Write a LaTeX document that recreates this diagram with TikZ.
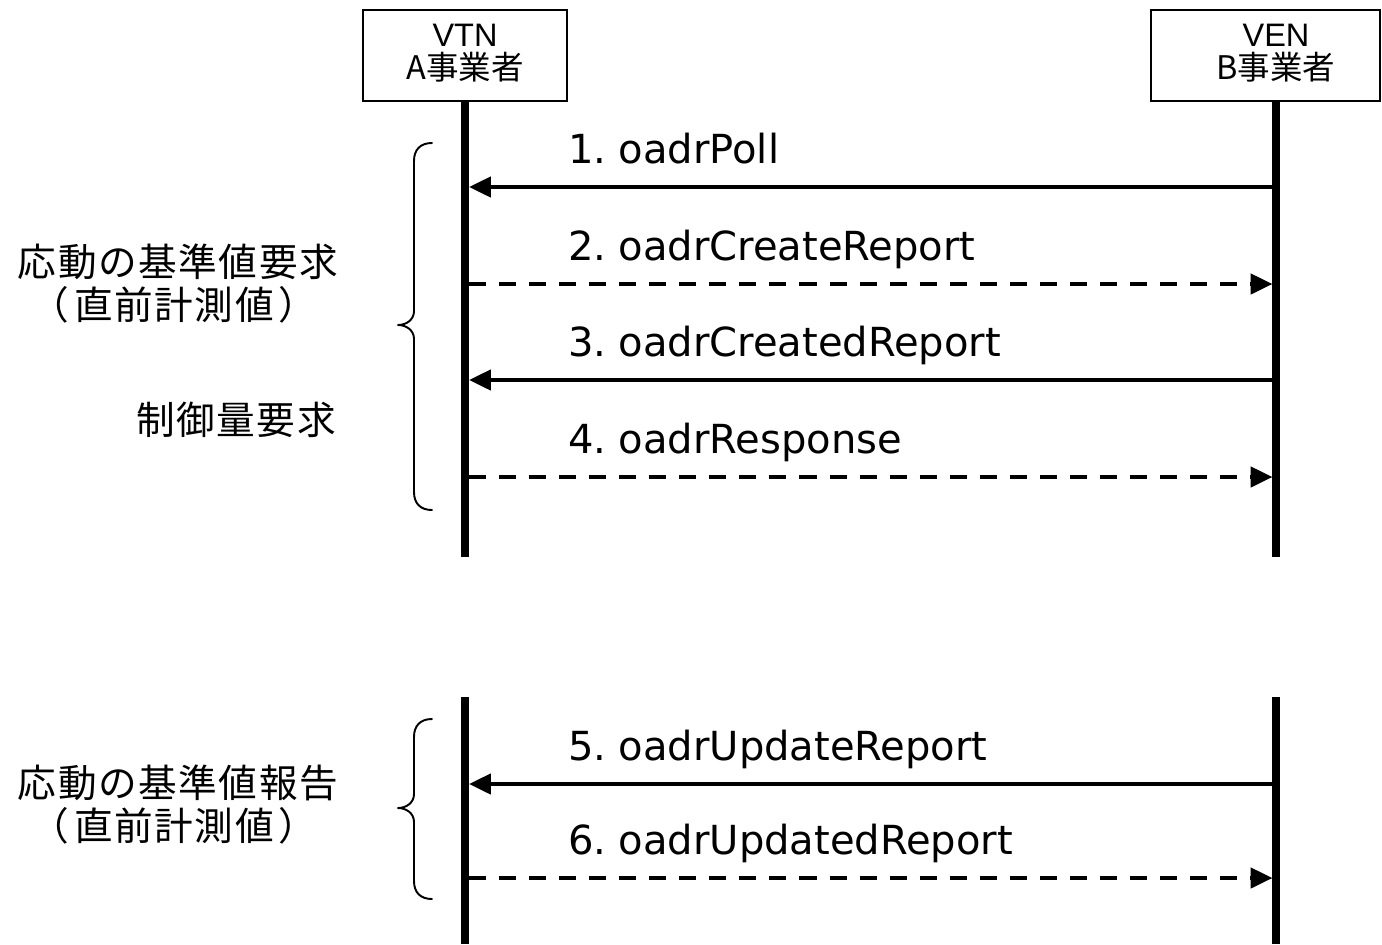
\documentclass[tikz,border=0pt]{standalone}
\usepackage{fontspec}
\setmainfont{Liberation Sans}
\newfontfamily\jpfont[LetterSpace=4]{Noto Sans CJK JP}
\newfontfamily\jpboxfont{Noto Sans CJK JP}
\newfontfamily\msgfont{DejaVu Sans}
\usetikzlibrary{arrows.meta}

\tikzset{
  actorbox/.style={draw, line width=0.75pt, inner sep=0pt},
  actorname/.style={inner sep=0pt, align=center, font=\fontsize{18.5}{19}\selectfont},
  lifeline/.style={line width=4.5pt},
  msg/.style={line width=2.3pt, -{Triangle[length=12.5pt,width=11.5pt]}},
  reply/.style={msg, dash pattern=on 9.7pt off 7.4pt},
  msglabel/.style={inner sep=0pt, anchor=base west, font=\msgfont\fontsize{22.8}{26}\selectfont},
  phase/.style={inner sep=0pt, font=\jpfont\fontsize{22}{24}\selectfont},
  brace/.style={line width=1.1pt, line cap=round, line join=round}
}

\begin{document}
\begin{tikzpicture}[x=0.02cm, y=-0.02cm]
\useasboundingbox (0,0) rectangle (1382,944);

% participants
\node[actorbox, minimum width=4.08cm, minimum height=1.82cm] (vtnbox) at (465,55.5) {};
\node[actorbox, minimum width=4.58cm, minimum height=1.82cm] (venbox) at (1265.5,55.5) {};
\node[actorname] (vtnname) at (465,53) {VTN\\{\jpboxfont A事業者}};
\node[actorname] (venname) at (1276,53) {VEN\\{\jpboxfont B事業者}};

% lifelines
\coordinate (vtnA) at (465,101);
\coordinate (vtnB) at (465,557);
\coordinate (venA) at (1276,101);
\coordinate (venB) at (1276,557);
\coordinate (vtnC) at (465,697);
\coordinate (vtnD) at (465,944);
\coordinate (venC) at (1276,697);
\coordinate (venD) at (1276,944);
\draw[lifeline] (vtnA) -- (vtnB);
\draw[lifeline] (venA) -- (venB);
\draw[lifeline] (vtnC) -- (vtnD);
\draw[lifeline] (venC) -- (venD);

% message end points on the lifelines
\foreach \n/\y in {1/187, 2/284, 3/380, 4/477, 5/784, 6/878} {
  \coordinate (t\n) at (469,\y);
  \coordinate (v\n) at (1272.5,\y);
}

% messages
\draw[msg]   (v1) -- (t1);
\draw[reply] (t2) -- (v2);
\draw[msg]   (v3) -- (t3);
\draw[reply] (t4) -- (v4);
\draw[msg]   (v5) -- (t5);
\draw[reply] (t6) -- (v6);

\node[msglabel] (l1) at (568,163) {1.\kern-0.12em{} oadrPoll};
\node[msglabel] (l2) at (568,260) {2.\kern-0.12em{} oadrCreateReport};
\node[msglabel] (l3) at (568,356) {3.\kern-0.12em{} oadrCreatedReport};
\node[msglabel] (l4) at (568,453) {4.\kern-0.12em{} oadrResponse};
\node[msglabel] (l5) at (568,760) {5.\kern-0.12em{} oadrUpdateReport};
\node[msglabel] (l6) at (568,854) {6.\kern-0.12em{} oadrUpdatedReport};

% phase braces
\draw[brace] (432,143) .. controls (420,143) and (414,150) .. (414,161)
  -- (414,311) .. controls (414,320) and (406,325) .. (398,325)
  .. controls (406,325) and (414,330) .. (414,339)
  -- (414,492) .. controls (414,503) and (420,510) .. (432,510);
\draw[brace] (432,719) .. controls (420,719) and (414,726) .. (414,737)
  -- (414,794) .. controls (414,803) and (406,808) .. (398,808)
  .. controls (406,808) and (414,813) .. (414,822)
  -- (414,881) .. controls (414,892) and (420,899) .. (432,899);

% phase labels
\node[phase] (req1)  at (178,262) {応動の基準値要求};
\node[phase] (req1b) at (174,305) {（\kern0.12em直前計測値\kern0.12em）};
\node[phase] (req2)  at (236,420) {制御量要求};
\node[phase] (rep1)  at (178,783) {応動の基準値報告};
\node[phase] (rep1b) at (174,826) {（\kern0.12em直前計測値\kern0.12em）};
\end{tikzpicture}
\end{document}
